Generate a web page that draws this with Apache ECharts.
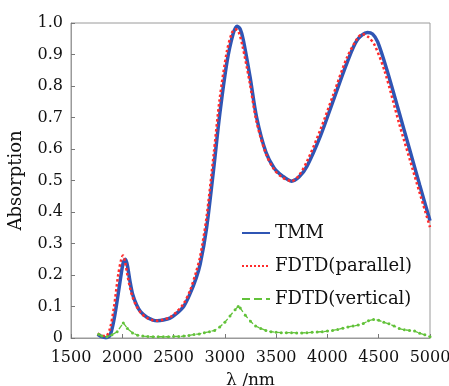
<!DOCTYPE html>
<html>
<head>
<meta charset="utf-8">
<script src="https://cdn.jsdelivr.net/npm/echarts@6/dist/echarts.min.js"></script>
<style>
  html, body { margin: 0; padding: 0; background: #fff; }
  #chart { width: 449px; height: 386px; }
</style>
</head>
<body>
<div id="chart"></div>
<script>
// wavelength (nm) / absorption readings
const tmmX = [1760, 1800, 1840, 1880, 1920, 1960, 1990, 2010, 2030, 2050, 2075, 2100, 2140, 2180, 2240, 2300, 2340, 2400, 2465, 2530, 2600, 2660, 2720, 2760, 2820, 2890, 2950, 3020, 3080, 3120, 3150, 3180, 3245, 3310, 3400, 3480, 3560, 3650, 3720, 3800, 3930, 4060, 4190, 4290, 4390, 4440, 4490, 4580, 4700, 4800, 4900, 5000];
const tmmY = [0.012, 0.004, 0.001, 0.008, 0.06, 0.14, 0.205, 0.24, 0.25, 0.23, 0.18, 0.14, 0.105, 0.083, 0.066, 0.057, 0.055, 0.057, 0.063, 0.078, 0.101, 0.14, 0.19, 0.235, 0.345, 0.535, 0.71, 0.875, 0.965, 0.99, 0.98, 0.946, 0.83, 0.70, 0.59, 0.54, 0.515, 0.498, 0.51, 0.545, 0.64, 0.757, 0.873, 0.946, 0.97, 0.965, 0.94, 0.851, 0.715, 0.60, 0.485, 0.372];

const parX = [1760, 1800, 1840, 1880, 1920, 1960, 1990, 2007, 2025, 2050, 2075, 2100, 2140, 2180, 2240, 2300, 2340, 2400, 2465, 2530, 2600, 2660, 2720, 2760, 2820, 2890, 2950, 3020, 3070, 3100, 3130, 3170, 3240, 3310, 3400, 3480, 3560, 3650, 3720, 3800, 3930, 4060, 4190, 4290, 4340, 4400, 4460, 4560, 4700, 4800, 4900, 5000];
const parY = [0.014, 0.008, 0.006, 0.03, 0.1, 0.2, 0.25, 0.262, 0.245, 0.2, 0.16, 0.13, 0.1, 0.08, 0.064, 0.056, 0.055, 0.058, 0.066, 0.083, 0.11, 0.15, 0.21, 0.26, 0.38, 0.58, 0.76, 0.91, 0.97, 0.98, 0.975, 0.93, 0.815, 0.685, 0.585, 0.535, 0.51, 0.498, 0.515, 0.56, 0.66, 0.775, 0.89, 0.95, 0.965, 0.955, 0.93, 0.845, 0.68, 0.57, 0.46, 0.352];

const verX = [1770, 1800, 1850, 1900, 1950, 2010, 2050, 2100, 2150, 2200, 2250, 2300, 2350, 2400, 2450, 2500, 2550, 2600, 2650, 2700, 2750, 2800, 2850, 2900, 2950, 3000, 3050, 3100, 3130, 3150, 3200, 3250, 3300, 3350, 3400, 3450, 3500, 3550, 3600, 3650, 3700, 3750, 3800, 3850, 3900, 3950, 4000, 4050, 4100, 4150, 4200, 4250, 4300, 4350, 4400, 4450, 4500, 4550, 4600, 4650, 4700, 4750, 4800, 4850, 4900, 4950, 5000];
const verY = [0.012, 0.006, 0.004, 0.01, 0.02, 0.048, 0.03, 0.016, 0.009, 0.006, 0.005, 0.004, 0.004, 0.004, 0.004, 0.005, 0.005, 0.006, 0.008, 0.011, 0.013, 0.017, 0.02, 0.024, 0.035, 0.05, 0.07, 0.09, 0.1, 0.095, 0.072, 0.053, 0.038, 0.03, 0.024, 0.02, 0.018, 0.017, 0.017, 0.017, 0.016, 0.016, 0.017, 0.018, 0.019, 0.02, 0.022, 0.024, 0.027, 0.031, 0.035, 0.038, 0.041, 0.046, 0.055, 0.059, 0.056, 0.05, 0.045, 0.038, 0.03, 0.026, 0.024, 0.022, 0.015, 0.01, 0.004];

const seriesNames = ['TMM', 'FDTD(parallel)', 'FDTD(vertical)'];

const zip = (xs, ys) => xs.map((x, i) => [x, ys[i]]);
const font = 'DejaVu Serif';

const chart = echarts.init(document.getElementById('chart'));
const option = {
  animation: false,
  backgroundColor: '#fff',
  grid: {
    left: 71, right: 19, top: 23, bottom: 48,
    outerBoundsMode: 'none',
    show: true, borderColor: '#9a9a9a', borderWidth: 1,
  },
  legend: {
    orient: 'vertical',
    left: 236, top: 219,
    itemWidth: 28, itemHeight: 16, itemGap: 15,
    itemStyle: { opacity: 0 },
    textStyle: { fontFamily: font, fontSize: 18, color: '#111' },
    data: seriesNames,
  },
  xAxis: {
    type: 'value',
    min: 1500, max: 5000, interval: 500,
    name: 'λ /nm', nameLocation: 'middle', nameGap: 34,
    nameTextStyle: { fontFamily: font, fontSize: 17, color: '#111' },
    axisLine: { lineStyle: { color: '#9a9a9a' } },
    axisTick: { inside: true, length: 4, lineStyle: { color: '#777' } },
    axisLabel: { fontFamily: font, fontSize: 16, color: '#111', margin: 12, formatter: v => String(v) },
    splitLine: { show: false },
  },
  yAxis: {
    type: 'value',
    min: 0, max: 1, interval: 0.1,
    name: 'Absorption', nameLocation: 'middle', nameGap: 46,
    nameTextStyle: { fontFamily: font, fontSize: 18, color: '#111' },
    axisLine: { show: true, lineStyle: { color: '#9a9a9a' } },
    axisTick: { show: true, inside: true, length: 4, lineStyle: { color: '#777' } },
    axisLabel: {
      fontFamily: font, fontSize: 16, color: '#111', margin: 8,
      formatter: v => (v === 0 ? '0' : v.toFixed(1)),
    },
    splitLine: { show: false },
  },
  series: [
    {
      name: seriesNames[0],
      type: 'line',
      data: zip(tmmX, tmmY),
      smooth: 0.3,
      showSymbol: false,
      symbol: 'none',
      color: '#2f55b4',
      lineStyle: { width: 3.5, color: '#2f55b4' },
      z: 2,
    },
    {
      name: seriesNames[1],
      type: 'line',
      data: zip(parX, parY),
      smooth: 0.3,
      showSymbol: false,
      symbol: 'none',
      color: '#ff2b2b',
      lineStyle: { width: 2.5, type: 'dotted', color: '#ff2b2b' },
      z: 3,
    },
    {
      name: seriesNames[2],
      type: 'line',
      data: zip(verX, verY),
      symbol: 'circle',
      symbolSize: 3,
      color: '#62c23a',
      itemStyle: { color: '#62c23a' },
      lineStyle: { width: 1.3, type: 'dashed', color: '#62c23a' },
      z: 4,
    },
  ],
};
chart.setOption(option);
</script>
</body>
</html>
